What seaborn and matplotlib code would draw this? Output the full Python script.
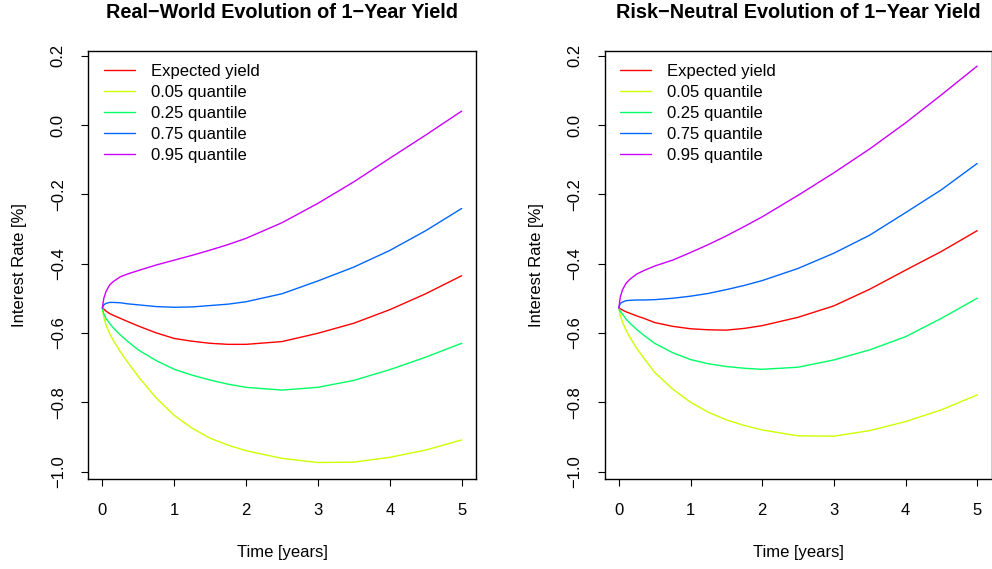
import numpy as np
import pandas as pd
import matplotlib
matplotlib.use("Agg")
import matplotlib.pyplot as plt
import seaborn as sns

# Horizon grid (years)
time_years = [0, 0.02, 0.05, 0.1, 0.15, 0.25, 0.35, 0.5, 0.75, 1, 1.25, 1.5, 1.75, 2,
              2.5, 3, 3.5, 4, 4.5, 5]

# Real-world measure: expected 1-year yield and quantiles (%)
rw_expected = [-0.528, -0.531, -0.537, -0.544, -0.549, -0.558, -0.567, -0.580, -0.600, -0.616,
               -0.624, -0.630, -0.633, -0.633, -0.625, -0.601, -0.572, -0.533, -0.487, -0.435]
rw_q05 = [-0.528, -0.555, -0.577, -0.601, -0.621, -0.654, -0.684, -0.726, -0.788, -0.838,
          -0.875, -0.904, -0.924, -0.940, -0.962, -0.974, -0.973, -0.959, -0.938, -0.909]
rw_q25 = [-0.528, -0.545, -0.558, -0.572, -0.585, -0.606, -0.624, -0.649, -0.680, -0.705,
          -0.722, -0.736, -0.748, -0.757, -0.765, -0.757, -0.737, -0.706, -0.670, -0.630]
rw_q75 = [-0.528, -0.519, -0.515, -0.512, -0.512, -0.513, -0.516, -0.519, -0.524, -0.526,
          -0.525, -0.521, -0.517, -0.510, -0.487, -0.450, -0.410, -0.362, -0.305, -0.241]
rw_q95 = [-0.528, -0.500, -0.481, -0.462, -0.452, -0.438, -0.430, -0.420, -0.404, -0.390,
          -0.376, -0.361, -0.345, -0.327, -0.282, -0.226, -0.164, -0.096, -0.029, 0.040]

# Risk-neutral measure
rn_expected = [-0.528, -0.530, -0.534, -0.539, -0.543, -0.551, -0.558, -0.570, -0.581, -0.588,
               -0.591, -0.592, -0.587, -0.579, -0.555, -0.522, -0.474, -0.419, -0.365, -0.305]
rn_q05 = [-0.528, -0.550, -0.568, -0.592, -0.611, -0.645, -0.673, -0.714, -0.762, -0.800,
          -0.829, -0.851, -0.867, -0.880, -0.897, -0.898, -0.882, -0.856, -0.822, -0.779]
rn_q25 = [-0.528, -0.538, -0.545, -0.560, -0.571, -0.590, -0.607, -0.630, -0.657, -0.677,
          -0.689, -0.697, -0.702, -0.705, -0.699, -0.678, -0.649, -0.611, -0.558, -0.500]
rn_q75 = [-0.528, -0.515, -0.511, -0.507, -0.506, -0.505, -0.505, -0.504, -0.500, -0.494,
          -0.486, -0.475, -0.463, -0.449, -0.414, -0.370, -0.318, -0.253, -0.187, -0.111]
rn_q95 = [-0.528, -0.497, -0.476, -0.457, -0.446, -0.430, -0.420, -0.407, -0.390, -0.368,
          -0.345, -0.320, -0.293, -0.265, -0.203, -0.138, -0.069, 0.006, 0.087, 0.170]

series_labels = ["Expected yield", "0.05 quantile", "0.25 quantile",
                 "0.75 quantile", "0.95 quantile"]
series_colors = ["#FF0000", "#CCFF00", "#00FF66", "#0066FF", "#CC00FF"]

panel_titles = ["Real\u2212World Evolution of 1\u2212Year Yield",
                "Risk\u2212Neutral Evolution of 1\u2212Year Yield"]
x_ticks = [0, 1, 2, 3, 4, 5]
y_ticks = [-1.0, -0.8, -0.6, -0.4, -0.2, 0.0, 0.2]
y_tick_labels = ["\u22121.0", "\u22120.8", "\u22120.6", "\u22120.4", "\u22120.2", "0.0", "0.2"]

sns.set_theme(style="white")
plt.rcParams["font.family"] = ["Liberation Sans", "DejaVu Sans"]
plt.rcParams["font.size"] = 12
plt.rcParams["text.color"] = "black"
plt.rcParams["axes.labelcolor"] = "black"
plt.rcParams["xtick.color"] = "black"
plt.rcParams["ytick.color"] = "black"

fig = plt.figure(figsize=(9.92, 5.69), dpi=100)
ax_left = fig.add_axes([88 / 992, 1 - 479 / 569, 388 / 992, 428 / 569])
ax_right = fig.add_axes([604.5 / 992, 1 - 479 / 569, 387 / 992, 428 / 569])

panels = [
    (ax_left, [rw_expected, rw_q05, rw_q25, rw_q75, rw_q95]),
    (ax_right, [rn_expected, rn_q05, rn_q25, rn_q75, rn_q95]),
]

for (ax, series), title in zip(panels, panel_titles):
    frames = []
    for lab, vals in zip(series_labels, series):
        frames.append(pd.DataFrame({"time": time_years, "rate": vals, "series": lab}))
    df = pd.concat(frames, ignore_index=True)
    sns.lineplot(data=df, x="time", y="rate", hue="series", hue_order=series_labels,
                 palette=series_colors, linewidth=1.0, ax=ax, legend=True)

    ax.set_xlim(-0.2, 5.2)
    ax.set_ylim(-1.0216, 0.2136)
    ax.set_xticks(x_ticks)
    ax.set_xticklabels([str(v) for v in x_ticks])
    ax.set_yticks(y_ticks)
    ax.set_yticklabels(y_tick_labels, rotation=90, va="center")
    ax.tick_params(axis="both", which="major", direction="out", length=5, width=0.8,
                   color="black", labelsize=12, labelcolor="black",
                   bottom=True, left=True, top=False, right=False)
    ax.tick_params(axis="x", pad=12)
    ax.tick_params(axis="y", pad=11)
    for sp in ax.spines.values():
        sp.set_color("black")
        sp.set_linewidth(1.0)

    ax.set_xlabel("Time [years]", fontsize=12, labelpad=20, color="black")
    ax.set_ylabel("Interest Rate [%]", fontsize=12, labelpad=17, color="black")
    ax.set_title(title, fontsize=14.3, fontweight="bold", pad=24, color="black")

    leg = ax.legend(loc="upper left", bbox_to_anchor=(0.041, 0.969), frameon=False,
                    borderaxespad=0, borderpad=0, handlelength=1.86,
                    handletextpad=0.94, labelspacing=0.36, fontsize=12)
    for txt in leg.get_texts():
        txt.set_color("black")
    for h in leg.get_lines():
        h.set_linewidth(1.0)

fig.savefig("out.png", dpi=100)
